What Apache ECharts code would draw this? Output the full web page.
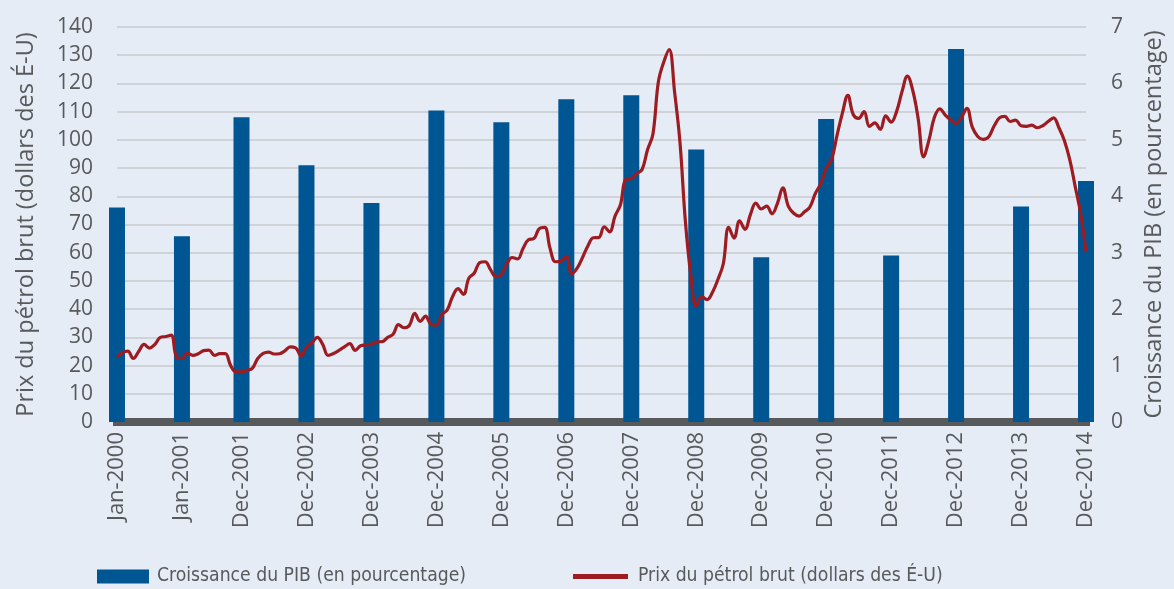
<!DOCTYPE html>
<html>
<head>
<meta charset="utf-8">
<script src="https://cdn.jsdelivr.net/npm/echarts@6/dist/echarts.min.js"></script>
<style>
  html, body { margin: 0; padding: 0; background: #e5ecf6; }
  #chart { width: 1174px; height: 589px; }
</style>
</head>
<body>
<div id="chart"></div>
<script>
// monthly categories, Jan-2000 .. Dec-2014
var monthNames = ['Jan', 'Feb', 'Mar', 'Apr', 'May', 'Jun', 'Jul', 'Aug', 'Sep', 'Oct', 'Nov', 'Dec'];
var months = [];
for (var y = 2000; y <= 2014; y++) {
  for (var m = 0; m < 12; m++) months.push(monthNames[m] + '-' + y);
}

// months that carry a tick label and a GDP bar
var labelMonths = [0, 12, 23, 35, 47, 59, 71, 83, 95, 107, 119, 131, 143, 155, 167, 179];

// GDP growth (%), one value per labelled month
var gdpGrowth = [3.80, 3.29, 5.40, 4.55, 3.88, 5.52, 5.31, 5.72, 5.79, 4.83, 2.92, 5.37, 2.95, 6.61, 3.82, 4.27];

// crude oil price (US$), monthly
var oilPrice = [
  23.0, 24.5, 25.1, 22.5, 25.0, 27.5, 26.2, 27.5, 30.0, 30.3, 30.8, 23.0, // 2000
  22.5, 24.5, 23.6, 24.2, 25.3, 25.5, 23.6, 24.2, 24.2, 20.0, 17.8, 17.8, // 2001
  18.3, 19.0, 22.5, 24.3, 24.8, 24.1, 24.2, 25.2, 26.6, 26.3, 23.5, 26.5, // 2002
  28.0, 30.0, 27.5, 23.6, 24.3, 25.4, 26.6, 27.8, 25.4, 27.0, 27.3, 27.6, // 2003
  28.4, 28.5, 30.0, 31.1, 34.5, 33.4, 34.2, 38.5, 35.7, 37.5, 34.6, 34.3, // 2004
  38.0, 39.7, 44.5, 47.3, 45.2, 51.0, 52.8, 56.5, 56.8, 54.0, 51.5, 52.3, // 2005
  56.0, 58.3, 57.8, 61.5, 64.6, 65.0, 68.5, 69.0, 61.5, 56.8, 57.0, 58.7, // 2006
  52.5, 54.5, 58.3, 62.5, 65.3, 65.4, 69.2, 67.4, 73.0, 77.0, 86.0, 86.2, // 2007
  88.0, 89.5, 96.5, 102.0, 120.5, 127.6, 132.0, 117.0, 99.0, 71.0, 52.0, 41.0, // 2008
  44.5, 43.4, 46.0, 50.5, 56.1, 69.0, 65.2, 71.3, 68.3, 73.5, 77.6, 75.5, // 2009
  76.5, 73.8, 77.5, 83.0, 76.5, 74.0, 73.0, 74.5, 76.2, 81.0, 84.5, 89.8, // 2010
  93.0, 101.5, 109.5, 115.8, 109.0, 107.6, 110.0, 104.8, 106.0, 103.7, 108.5, 106.3, // 2011
  110.0, 117.0, 122.6, 117.5, 107.5, 94.0, 100.0, 108.0, 111.0, 108.8, 107.0, 105.8, // 2012
  108.0, 111.2, 104.5, 101.2, 100.2, 101.0, 104.8, 107.8, 108.3, 106.5, 107.0, 105.0, // 2013
  104.8, 105.2, 104.3, 105.0, 106.5, 107.8, 104.3, 99.8, 93.0, 83.5, 74.0, 60.2  // 2014
];

var barData = months.map(function (_, i) {
  var k = labelMonths.indexOf(i);
  return k >= 0 ? gdpGrowth[k] : null;
});

var TEXT = '#58595b';
var FONT = '"Open Sans", "Noto Sans", sans-serif';
var NARROW = '"Liberation Sans Narrow", "Arial Narrow", "DejaVu Sans Condensed", Roboto, sans-serif';
var GDP_NAME = 'Croissance du PIB (en pourcentage)';
var OIL_NAME = 'Prix du pétrol brut (dollars des É-U)';

// the legend uses a condensed face; size it so the text stays close to its width
function fitSize(text, family, target) {
  var ctx = document.createElement('canvas').getContext('2d');
  ctx.font = '100px ' + family;
  var size = target / ctx.measureText(text).width * 100;
  return Math.min(23, Math.round(size * 10) / 10);
}
var legendSize = fitSize(GDP_NAME, NARROW, 310);

var chart = echarts.init(document.getElementById('chart'));
chart.setOption({
  backgroundColor: '#e5ecf6',
  animation: false,
  grid: { left: 117, right: 86, top: 27, bottom: 167 },
  legend: [
    {
      left: 97, top: 567, padding: 0,
      itemWidth: 52, itemHeight: 14,
      data: [{ name: GDP_NAME, icon: 'rect' }],
      textStyle: { color: TEXT, fontFamily: NARROW, fontSize: legendSize, padding: [0, 0, 0, 3] }
    },
    {
      left: 573, top: 567, padding: 0,
      itemWidth: 55, itemHeight: 14,
      data: [{ name: OIL_NAME, icon: 'path://M0,0M0,4.5H55V9.5H0ZM55,14' }],
      textStyle: { color: TEXT, fontFamily: NARROW, fontSize: legendSize, padding: [0, 0, 0, 5] }
    }
  ],
  xAxis: {
    type: 'category',
    data: months,
    boundaryGap: false,
    axisLine: { lineStyle: { color: '#58595b', width: 8, cap: 'square' } },
    axisTick: { show: false },
    axisLabel: {
      rotate: 90,
      margin: 10,
      color: TEXT,
      fontFamily: FONT,
      fontSize: 22,
      interval: function (idx) { return labelMonths.indexOf(idx) >= 0; }
    },
    splitLine: { show: false }
  },
  yAxis: [
    {
      type: 'value',
      min: 0, max: 140, interval: 10,
      name: OIL_NAME,
      nameLocation: 'middle',
      nameRotate: 90,
      nameGap: 79,
      nameTextStyle: { color: TEXT, fontFamily: FONT, fontSize: 23.5 },
      axisLine: { show: false },
      axisTick: { show: false },
      axisLabel: { color: TEXT, fontFamily: FONT, fontSize: 21, margin: 24 },
      splitLine: { lineStyle: { color: '#cfd3d8', width: 2 } }
    },
    {
      type: 'value',
      min: 0, max: 7, interval: 1,
      name: GDP_NAME,
      nameLocation: 'middle',
      nameRotate: 90,
      nameGap: 56,
      nameTextStyle: { color: TEXT, fontFamily: FONT, fontSize: 23.5 },
      axisLine: { show: false },
      axisTick: { show: false },
      axisLabel: { color: TEXT, fontFamily: FONT, fontSize: 21, margin: 25 },
      splitLine: { show: false }
    }
  ],
  series: [
    {
      name: GDP_NAME,
      type: 'bar',
      yAxisIndex: 1,
      data: barData,
      barWidth: 16,
      clip: false,
      itemStyle: { color: '#005693' }
    },
    {
      name: OIL_NAME,
      type: 'line',
      yAxisIndex: 0,
      data: oilPrice,
      smooth: 0.4,
      symbol: 'none',
      lineStyle: { color: '#9d1c21', width: 3.2 },
      itemStyle: { color: '#9d1c21' }
    }
  ]
});
</script>
</body>
</html>
